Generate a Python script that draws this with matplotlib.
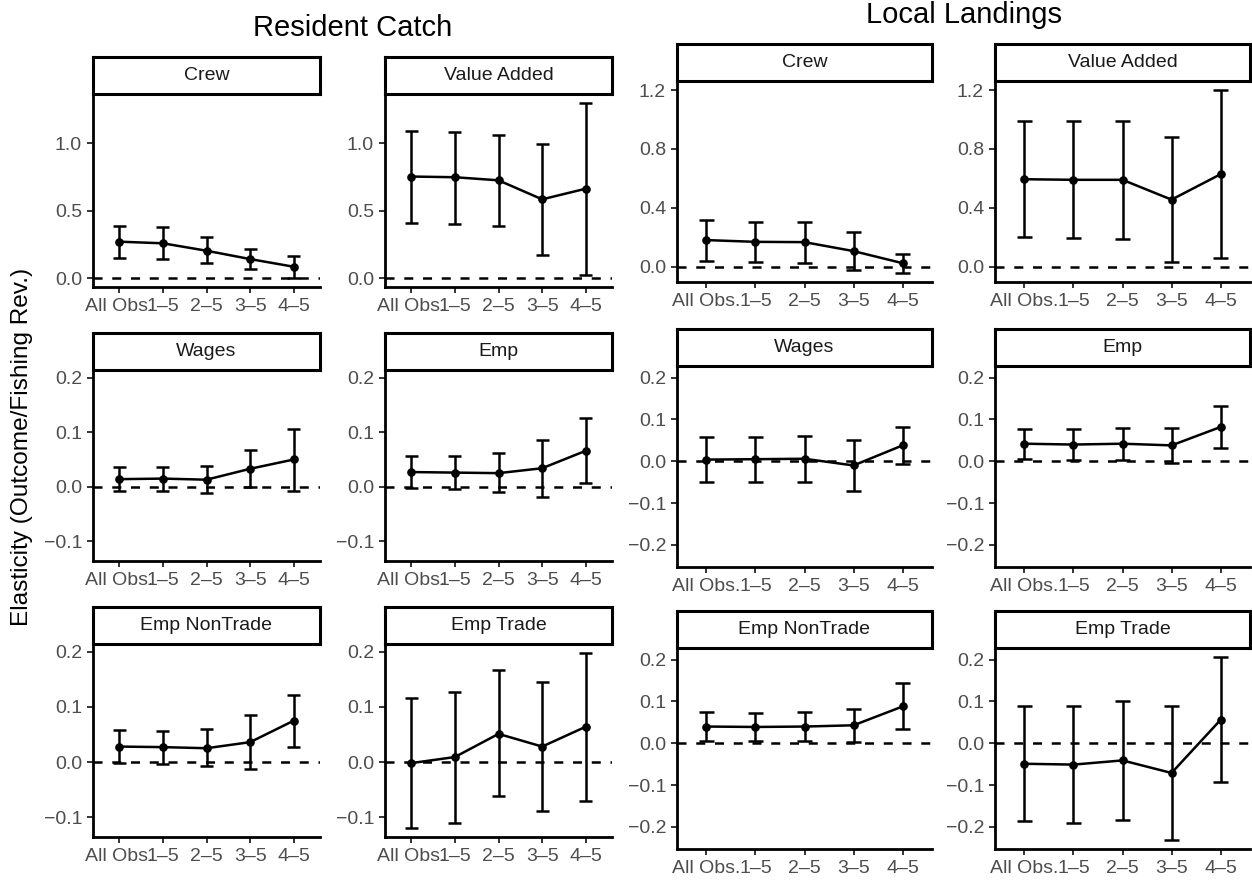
import matplotlib
matplotlib.use("Agg")
import matplotlib.pyplot as plt
import numpy as np
from matplotlib.ticker import FixedLocator, FuncFormatter

plt.rcParams['font.family'] = ['Liberation Sans', 'DejaVu Sans']
plt.rcParams['lines.scale_dashes'] = False

categories = ["All Obs.", "1\u20135", "2\u20135", "3\u20135", "4\u20135"]

# ---------------- Resident Catch ----------------
rc_crew_est = [0.271, 0.259, 0.204, 0.142, 0.085]
rc_crew_hi = [0.390, 0.378, 0.304, 0.216, 0.167]
rc_crew_lo = [0.152, 0.140, 0.110, 0.067, 0.003]

rc_va_est = [0.754, 0.749, 0.726, 0.585, 0.664]
rc_va_hi = [1.090, 1.087, 1.065, 0.993, 1.301]
rc_va_lo = [0.410, 0.405, 0.388, 0.174, 0.022]

rc_wages_est = [0.014, 0.015, 0.013, 0.033, 0.050]
rc_wages_hi = [0.037, 0.037, 0.038, 0.067, 0.106]
rc_wages_lo = [-0.007, -0.007, -0.011, -0.001, -0.007]

rc_emp_est = [0.027, 0.026, 0.025, 0.034, 0.066]
rc_emp_hi = [0.057, 0.057, 0.061, 0.085, 0.126]
rc_emp_lo = [-0.003, -0.004, -0.009, -0.018, 0.007]

rc_empnt_est = [0.028, 0.027, 0.025, 0.036, 0.075]
rc_empnt_hi = [0.058, 0.057, 0.059, 0.085, 0.122]
rc_empnt_lo = [-0.001, -0.003, -0.008, -0.012, 0.028]

rc_empt_est = [-0.002, 0.009, 0.051, 0.028, 0.064]
rc_empt_hi = [0.116, 0.127, 0.166, 0.145, 0.198]
rc_empt_lo = [-0.120, -0.110, -0.062, -0.089, -0.071]

# ---------------- Local Landings ----------------
ll_crew_est = [0.180, 0.168, 0.166, 0.105, 0.023]
ll_crew_hi = [0.316, 0.305, 0.305, 0.237, 0.087]
ll_crew_lo = [0.039, 0.032, 0.027, -0.025, -0.043]

ll_va_est = [0.594, 0.590, 0.590, 0.455, 0.628]
ll_va_hi = [0.988, 0.988, 0.993, 0.879, 1.200]
ll_va_lo = [0.203, 0.194, 0.184, 0.034, 0.061]

ll_wages_est = [0.004, 0.005, 0.006, -0.010, 0.038]
ll_wages_hi = [0.057, 0.058, 0.060, 0.052, 0.082]
ll_wages_lo = [-0.050, -0.050, -0.050, -0.071, -0.006]

ll_emp_est = [0.042, 0.040, 0.042, 0.038, 0.082]
ll_emp_hi = [0.078, 0.077, 0.079, 0.080, 0.132]
ll_emp_lo = [0.005, 0.003, 0.004, -0.004, 0.032]

ll_empnt_est = [0.040, 0.039, 0.040, 0.043, 0.088]
ll_empnt_hi = [0.074, 0.072, 0.075, 0.082, 0.143]
ll_empnt_lo = [0.006, 0.006, 0.006, 0.004, 0.035]

ll_empt_est = [-0.049, -0.051, -0.041, -0.071, 0.056]
ll_empt_hi = [0.088, 0.088, 0.100, 0.088, 0.206]
ll_empt_lo = [-0.186, -0.190, -0.183, -0.231, -0.092]

strip_labels = ["Crew", "Value Added", "Wages", "Emp", "Emp NonTrade", "Emp Trade"]

rc_panels = [(rc_crew_est, rc_crew_lo, rc_crew_hi), (rc_va_est, rc_va_lo, rc_va_hi),
             (rc_wages_est, rc_wages_lo, rc_wages_hi), (rc_emp_est, rc_emp_lo, rc_emp_hi),
             (rc_empnt_est, rc_empnt_lo, rc_empnt_hi), (rc_empt_est, rc_empt_lo, rc_empt_hi)]
ll_panels = [(ll_crew_est, ll_crew_lo, ll_crew_hi), (ll_va_est, ll_va_lo, ll_va_hi),
             (ll_wages_est, ll_wages_lo, ll_wages_hi), (ll_emp_est, ll_emp_lo, ll_emp_hi),
             (ll_empnt_est, ll_empnt_lo, ll_empnt_hi), (ll_empt_est, ll_empt_lo, ll_empt_hi)]

rc_ticks_top = [0.0, 0.5, 1.0]
rc_ticks_low = [-0.1, 0.0, 0.1, 0.2]
ll_ticks_top = [0.0, 0.4, 0.8, 1.2]
ll_ticks_low = [-0.2, -0.1, 0.0, 0.1, 0.2]

W, H = 1252, 882
fig = plt.figure(figsize=(W / 100, H / 100), dpi=100)


def px_axes(x0, x1, y0, y1):
    return fig.add_axes([x0 / W, 1 - y1 / H, (x1 - x0) / W, (y1 - y0) / H])


def fmt(v, pos):
    s = f"{v:.1f}"
    if s == "-0.0":
        s = "0.0"
    return s.replace("-", "\u2212")


def yrange(panels):
    lo = min(min(p[1]) for p in panels)
    hi = max(max(p[2]) for p in panels)
    lo = min(lo, 0.0)
    hi = max(hi, 0.0)
    pad = 0.05 * (hi - lo)
    return lo - pad, hi + pad


TICK_FS = 14
LW = 1.8


def draw_panel(axbox, stripbox, data, label, ylim, yticks):
    ax = px_axes(*axbox)
    est, lo, hi = (np.asarray(a) for a in data)
    x = np.arange(len(categories))
    ax.axhline(0, color="black", lw=LW, linestyle=(0, (6.5, 7)), zorder=1)
    ax.vlines(x, lo, hi, color="black", lw=LW, zorder=2)
    ax.hlines(lo, x - 0.15, x + 0.15, color="black", lw=LW, zorder=2)
    ax.hlines(hi, x - 0.15, x + 0.15, color="black", lw=LW, zorder=2)
    ax.plot(x, est, color="black", lw=LW, zorder=3)
    ax.plot(x, est, "o", color="black", ms=5.2, zorder=4)
    ax.set_xlim(-0.6, len(categories) - 1 + 0.6)
    ax.set_ylim(*ylim)
    ax.set_xticks(x)
    ax.set_xticklabels(categories)
    ax.yaxis.set_major_locator(FixedLocator(yticks))
    ax.yaxis.set_major_formatter(FuncFormatter(fmt))
    for s in ["top", "right"]:
        ax.spines[s].set_visible(False)
    for s in ["left", "bottom"]:
        ax.spines[s].set_linewidth(2.0)
        ax.spines[s].set_color("black")
    ax.tick_params(axis="both", length=4.4, width=1.4, color="#333333",
                   labelsize=TICK_FS, labelcolor="#4D4D4D", pad=3.5)
    ax.set_facecolor("white")

    sx = px_axes(*stripbox)
    sx.set_xticks([])
    sx.set_yticks([])
    for s in sx.spines.values():
        s.set_linewidth(2.2)
        s.set_color("black")
    sx.text(0.5, 0.5, label, transform=sx.transAxes, ha="center", va="center",
            fontsize=TICK_FS, color="#1A1A1A")
    return ax


# Resident Catch layout (pixels)
rc_cols = [(93, 320), (385, 612)]
rc_rows = [(94, 287), (370, 561), (644, 837)]
ll_cols = [(677, 932), (995, 1250)]
ll_rows = [(81, 282), (366, 567), (648, 849)]
STRIP_H = 37

rc_lim_top = yrange(rc_panels[:2])
rc_lim_low = yrange(rc_panels[2:])
ll_lim_top = yrange(ll_panels[:2])
ll_lim_low = yrange(ll_panels[2:])

for i, (data, lab) in enumerate(zip(rc_panels, strip_labels)):
    r, c = divmod(i, 2)
    x0, x1 = rc_cols[c]
    y0, y1 = rc_rows[r]
    lim = rc_lim_top if r == 0 else rc_lim_low
    ticks = rc_ticks_top if r == 0 else rc_ticks_low
    draw_panel((x0, x1, y0, y1), (x0, x1, y0 - STRIP_H, y0), data, lab, lim, ticks)

for i, (data, lab) in enumerate(zip(ll_panels, strip_labels)):
    r, c = divmod(i, 2)
    x0, x1 = ll_cols[c]
    y0, y1 = ll_rows[r]
    lim = ll_lim_top if r == 0 else ll_lim_low
    ticks = ll_ticks_top if r == 0 else ll_ticks_low
    draw_panel((x0, x1, y0, y1), (x0, x1, y0 - STRIP_H, y0), data, lab, lim, ticks)

fig.text(352.5 / W, 1 - 28 / H, "Resident Catch", ha="center", va="center",
         fontsize=21, color="black")
fig.text(963.5 / W, 1 - 15 / H, "Local Landings", ha="center", va="center",
         fontsize=21, color="black")
fig.text(22 / W, 1 - 447 / H, "Elasticity (Outcome/Fishing Rev.)", ha="center",
         va="center", rotation=90, fontsize=17.6, color="black")

fig.savefig("out.png", dpi=100, facecolor="white")
